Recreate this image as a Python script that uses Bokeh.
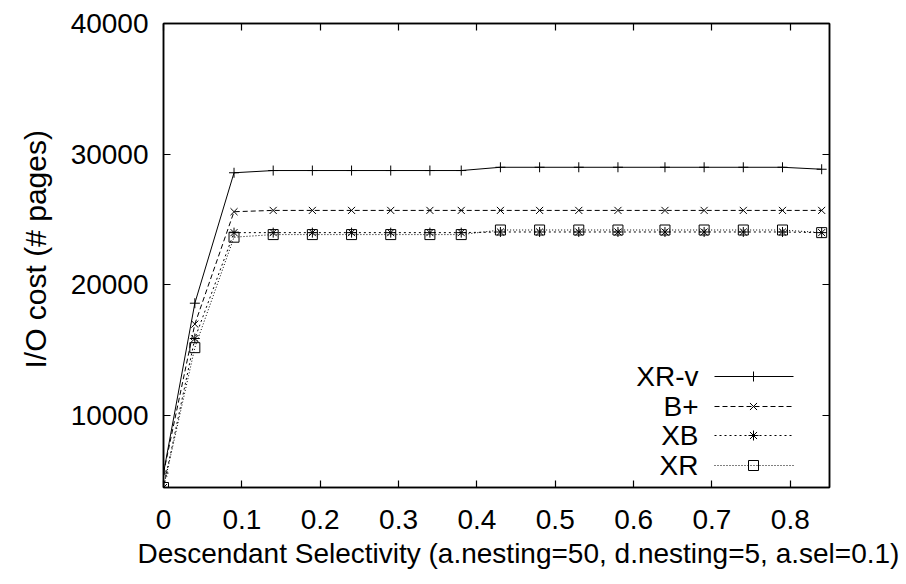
from bokeh.plotting import figure
from bokeh.models import Range1d, LinearAxis, FixedTicker, Label, Title
from bokeh.embed import file_html
from bokeh.resources import INLINE

# ---------------- data ----------------
selectivity = [0, 0.04, 0.09, 0.14, 0.19, 0.24, 0.29, 0.34, 0.38, 0.43,
               0.48, 0.53, 0.58, 0.64, 0.69, 0.74, 0.79, 0.84]
xr_v = [5600, 18600, 28580, 28750, 28750, 28750, 28750, 28750, 28750, 29000,
        29000, 29000, 29000, 29000, 29000, 29000, 29000, 28850]
b_plus = [5600, 17000, 25600, 25700, 25700, 25700, 25700, 25700, 25700, 25700,
          25700, 25700, 25700, 25700, 25700, 25700, 25700, 25700]
xb = [4500, 15900, 24000, 24000, 24000, 24000, 24000, 24000, 24000, 24050,
      24050, 24050, 24050, 24050, 24050, 24050, 24050, 24000]
xr = [4500, 15200, 23650, 23850, 23850, 23850, 23850, 23850, 23850, 24200,
      24200, 24200, 24200, 24200, 24200, 24200, 24200, 24000]
series_names = ["XR-v", "B+", "XB", "XR"]

x_ticks = [0, 0.1, 0.2, 0.3, 0.4, 0.5, 0.6, 0.7, 0.8]
x_tick_labels = ["0", "0.1", "0.2", "0.3", "0.4", "0.5", "0.6", "0.7", "0.8"]
y_ticks = [10000, 20000, 30000, 40000]
y_tick_labels = ["10000", "20000", "30000", "40000"]

x_title = "Descendant Selectivity (a.nesting=50, d.nesting=5, a.sel=0.1)"
y_title = "I/O cost (# pages)"

# ---------------- style ----------------
FONT = "Liberation Sans"
FS = "28px"
FW, FH = 666, 464

styles = [
    dict(marker="cross", dash="solid"),
    dict(marker="x", dash="5 3"),
    dict(marker="asterisk", dash="2 3"),
    dict(marker="square", dash="1 2"),
]

p = figure(frame_width=FW, frame_height=FH,
           x_range=Range1d(0, 0.85), y_range=Range1d(4500, 40000),
           output_backend="svg", toolbar_location=None,
           min_border_left=163, min_border_right=70,
           min_border_top=23, min_border_bottom=90)
p.background_fill_color = "white"
p.border_fill_color = "white"
p.grid.visible = False
p.outline_line_color = "black"
p.outline_line_width = 1.5
p.extra_x_ranges = {"kx": Range1d(0, FW)}
p.extra_y_ranges = {"ky": Range1d(0, FH)}

def style_axis(ax, ticks, labels=None):
    ax.ticker = FixedTicker(ticks=ticks)
    ax.axis_line_color = "black"
    ax.axis_line_width = 1.5
    ax.major_tick_in = 7
    ax.major_tick_out = 0
    ax.major_tick_line_width = 1.2
    ax.minor_tick_line_color = None
    if labels is not None:
        ax.major_label_overrides = {t: l for t, l in zip(ticks, labels)}
        ax.major_label_text_font = FONT
        ax.major_label_text_font_size = FS
        ax.major_label_text_color = "black"
    else:
        ax.major_label_overrides = {t: "" for t in ticks}
        ax.major_label_text_font_size = "2px"
        ax.major_label_standoff = 0

for ax in p.xaxis:
    style_axis(ax, x_ticks, x_tick_labels)
    ax.major_label_standoff = 22
for ax in p.yaxis:
    style_axis(ax, y_ticks, y_tick_labels)
    ax.major_label_standoff = 15

top = LinearAxis()
style_axis(top, x_ticks)
p.add_layout(top, "above")
right = LinearAxis()
style_axis(right, y_ticks)
p.add_layout(right, "right")

series = [xr_v, b_plus, xb, xr]
for ys, st in zip(series, styles):
    p.line(selectivity, ys, line_color="black", line_width=1, line_dash=st["dash"])
    p.scatter(selectivity, ys, marker=st["marker"], size=10, line_color="black",
              fill_color=None, line_width=1)

# key (frame pixel coordinates)
key_rows = [111, 81, 52, 22]
for name, st, ky in zip(series_names, styles, key_rows):
    p.add_layout(Label(x=535, y=ky, x_units="screen", y_units="screen", text=name,
                       text_font=FONT, text_font_size=FS, text_align="right",
                       text_baseline="middle", text_color="black"))
    p.line([551, 630], [ky, ky], x_range_name="kx", y_range_name="ky",
           line_color="black", line_width=1, line_dash=st["dash"])
    p.scatter([590], [ky], x_range_name="kx", y_range_name="ky", marker=st["marker"],
              size=10, line_color="black", fill_color=None, line_width=1)

# axis titles
xt = Title(text=x_title, align="left", offset=-26, standoff=10,
           vertical_align="middle",
           text_font=FONT, text_font_size=FS, text_font_style="normal",
           text_color="black")
p.add_layout(xt, "below")
yt = Title(text=y_title, align="left", offset=119, standoff=32,
           text_font=FONT, text_font_size="30px", text_font_style="normal",
           text_color="black")
p.add_layout(yt, "left")

open("out.html", "w").write(file_html(p, INLINE))
